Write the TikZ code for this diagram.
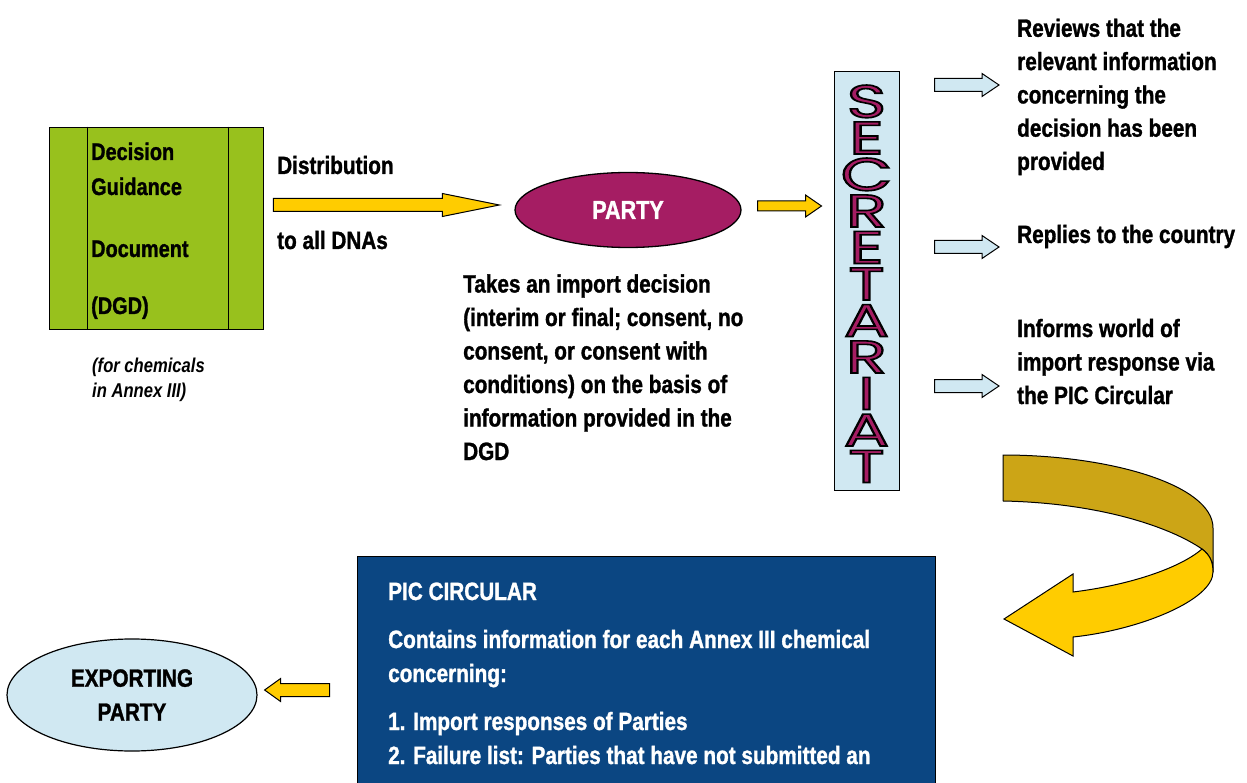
\documentclass[tikz,border=0pt]{standalone}
\usepackage{fontspec}
\setmainfont{Liberation Sans}[FakeStretch=0.83, BoldFeatures={FakeBold=1.2}]
\newfontfamily\letterfont{Poppins}[FakeBold=3.5]
\usetikzlibrary{shapes.geometric,calc}

\definecolor{dgdgreen}{RGB}{152,193,29}
\definecolor{partyred}{RGB}{165,29,99}
\definecolor{paleblue}{RGB}{208,232,242}
\definecolor{arrowyellow}{RGB}{255,204,0}
\definecolor{ribbongold}{RGB}{204,165,22}
\definecolor{picblue}{RGB}{11,70,130}

% a wide capital letter filled red-violet; its outline is stroked in black
\newcommand\ringletter[1]{\scalebox{1.45}[1]{\textcolor{partyred}{\special{pdf:literal direct 0 0 0 RG}#1}}}

\tikzset{
  % text blocks are placed by the baseline of their last line
  lbl/.style={anchor=base west, inner sep=0pt, align=left,
    font=\bfseries\fontsize{25}{33.5}\selectfont},
  % horizontal block arrow: shaft half-height, head half-height, head length
  blockarrow/.style n args={3}{to path={
    let \p1=(\tikztostart), \p2=(\tikztotarget), \n1={sign(\x2-\x1)} in
    (\x1,\y2+#1) -- (\x2-\n1*#3,\y2+#1) -- (\x2-\n1*#3,\y2+#2) -- (\x2,\y2)
    -- (\x2-\n1*#3,\y2-#2) -- (\x2-\n1*#3,\y2-#1) -- (\x1,\y2-#1) -- cycle}},
  yellowarrow/.style={draw=black, fill=arrowyellow, line width=1pt, line join=miter},
  bluearrow/.style={draw=black, fill=paleblue, line width=1pt, line join=miter},
  secword/.style={inner sep=0pt, align=center,
    font=\letterfont\fontsize{46}{36.5}\selectfont},
}

\begin{document}
\begin{tikzpicture}[x=1pt,y=-1pt]
\useasboundingbox (0,0) rectangle (1247,783);

% Decision Guidance Document
\node[draw, fill=dgdgreen, minimum width=214pt, minimum height=202pt,
      inner sep=0pt, line width=0.9pt] (dgd) at (156,228) {};
\draw[line width=0.9pt] ($(dgd.north west)+(39,0)$) -- ($(dgd.south west)+(39,0)$);
\draw[line width=0.9pt] ($(dgd.north east)+(-35,0)$) -- ($(dgd.south east)+(-35,0)$);
\node[lbl, font=\bfseries\fontsize{24}{35}\selectfont] (dgdtext) at (91,314)
  {Decision\\Guidance\\[27pt]Document\\[22pt](DGD)};
\node[lbl, font=\bfseries\itshape\fontsize{20}{25}\selectfont] (annex) at (92,397)
  {(for chemicals\\in Annex III)};

% distribution to the Parties
\node[lbl] (distr) at (277,174) {Distribution};
\node[lbl] (dnas) at (277,249) {to all DNAs};

\node[ellipse, draw, fill=partyred, minimum width=226pt, minimum height=75pt,
      inner sep=0pt, line width=1.3pt, text=white,
      font=\bfseries\fontsize{26}{30}\selectfont] (party) at (628,210) {PARTY};

\draw[yellowarrow, blockarrow={6.5pt}{11.5pt}{57pt}]
  ($(dgd.east)+(10,0)$) to ($(party.west)+(-15,-5)$);

\node[lbl] (decision) at (463,460)
  {Takes an import decision\\(interim or final; consent, no\\consent, or consent with\\conditions) on the basis of\\information provided in the\\DGD};

% Secretariat column with its name stacked letter by letter
\node[draw, fill=paleblue, minimum width=65pt, minimum height=418pt,
      inner sep=0pt, line width=1pt] (sec) at (866.5,281) {};
\node[secword] (secname) at (866.5,283.75)
  {\ringletter{S}\\\ringletter{E}\\\ringletter{C}\\\ringletter{R}\\\ringletter{E}\\\ringletter{T}\\%
   \ringletter{A}\\\ringletter{R}\\\ringletter{I}\\\ringletter{A}\\\ringletter{T}};

\draw[yellowarrow, blockarrow={5pt}{11pt}{16pt}]
  ($(party.east)+(16,0)$) to ($(sec.west |- party.east)+(-12,-4)$);

% Secretariat tasks
\node[lbl, font=\bfseries\fontsize{25}{33.3}\selectfont] (reviews) at (1017,170)
  {Reviews that the\\relevant information\\concerning the\\decision has been\\provided};
\node[lbl] (replies) at (1017,243) {Replies to the country};
\node[lbl] (informs) at (1017,404) {Informs world of\\import response via\\the PIC Circular};

\coordinate (tip1) at (999,85);
\coordinate (tip2) at (999,247);
\coordinate (tip3) at (999,386);
\foreach \t in {tip1,tip2,tip3}
  \draw[bluearrow, blockarrow={6.5pt}{11.5pt}{17pt}]
    ($(sec.east |- \t)+(35,0)$) to (\t);

% turning ribbon arrow
\draw[fill=ribbongold, line width=1pt, line join=round]
  (1003,455) .. controls (1110,455) and (1213,485) .. (1213,528)
  -- (1213,572) .. controls (1213,562) and (1210,555) .. (1202,549)
  .. controls (1170,527) and (1100,503) .. (1003,501) -- cycle;
\draw[fill=arrowyellow, line width=1pt, line join=miter]
  (1073,592) .. controls (1130,585) and (1180,568) .. (1202,549)
  .. controls (1210,555) and (1213,562) .. (1213,572)
  .. controls (1213,600) and (1140,630) .. (1073,637)
  -- (1073,656) -- (1004,619) -- (1073,574) -- cycle;

% PIC Circular
\node[draw, fill=picblue, minimum width=578pt, minimum height=240pt,
      inner sep=0pt, line width=1pt] (pic) at (646,676) {};
\node[lbl, text=white, font=\bfseries\fontsize{25}{34}\selectfont] (pictext) at (388,764)
  {PIC CIRCULAR\\[14pt]Contains information for each Annex III chemical\\concerning:\\[14pt]1. Import responses of Parties\\2. Failure list: Parties that have not submitted an};

% exporting Party
\node[ellipse, draw, fill=paleblue, minimum width=250pt, minimum height=112pt,
      inner sep=0pt, line width=1.2pt, align=center,
      font=\bfseries\fontsize{25}{34}\selectfont] (exp) at (132,695) {EXPORTING\\PARTY};

\draw[yellowarrow, blockarrow={6.5pt}{11.5pt}{16pt}]
  ($(pic.west |- exp.east)+(-27,0)$) to ($(exp.east)+(7,-5)$);
\end{tikzpicture}
\end{document}
